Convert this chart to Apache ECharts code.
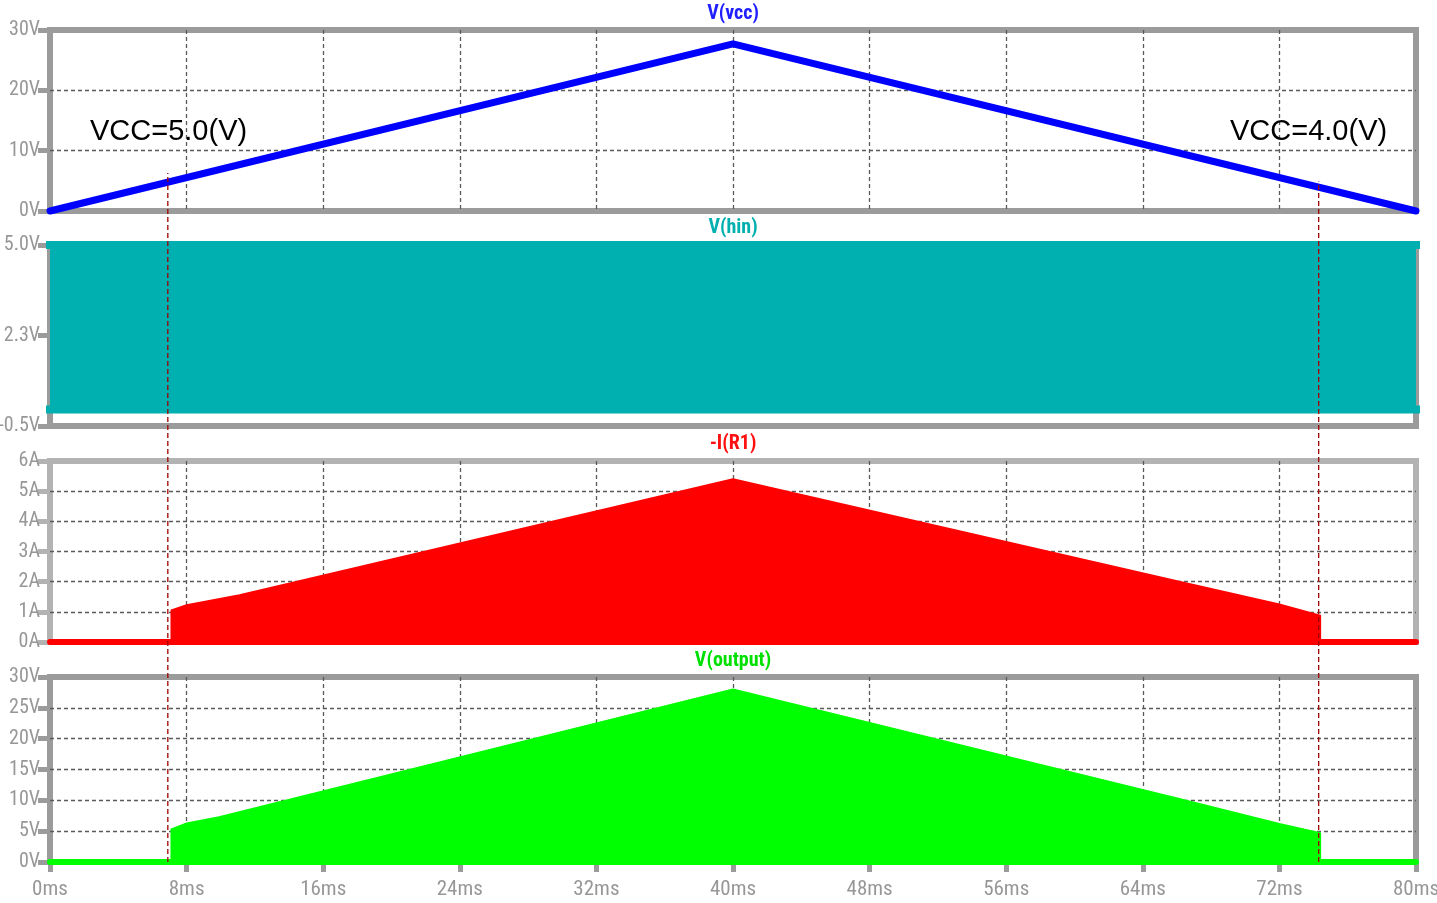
<!DOCTYPE html>
<html><head><meta charset="utf-8">
<script src="https://cdn.jsdelivr.net/npm/echarts@6/dist/echarts.min.js"></script>
<style>html,body{margin:0;padding:0;background:#fff}#c{width:1437px;height:903px}</style>
</head><body><div id="c"></div>
<script>
// ---- data ----
const vccTime  = [0, 40, 80];
const vccValue = [0, 27.7, 0];
const hinTime  = [0, 80];
const hinHigh  = [5.0, 5.0];
const hinLow   = [0, 0];
const hinTicks = [-0.5, 2.25, 5.0];
const iR1Time  = [0, 7.1, 7.1, 8, 11.1, 40, 66.2, 72, 74.4, 74.4, 80];
const iR1Value = [0, 0, 1.05, 1.23, 1.56, 5.4, 2.0, 1.25, 0.88, 0, 0];
const outTime  = [0, 7.1, 7.1, 8, 9.9, 40, 66.2, 72, 74.4, 74.4, 80];
const outValue = [0, 0, 5.3, 6.3, 7.3, 28.0, 10.2, 6.2, 4.7, 0, 0];
const markerTime  = [6.9, 74.3];
const markerText  = ['VCC=5.0(V)', 'VCC=4.0(V)'];
const traceNames  = ['V(vcc)', 'V(hin)', '-I(R1)', 'V(output)'];
const timeMax = 80, timeStep = 8;

// ---- layout / style ----
const FONT = '"Roboto Condensed","Liberation Sans Narrow",sans-serif';
const LBL = '#979797';
const grids = [
  {top: 30, height: 181, border: '#9b9b9b'},
  {top: 245, height: 181, border: '#9b9b9b'},
  {top: 461, height: 181, border: '#b3b3b3'},
  {top: 677, height: 185, border: '#9b9b9b'}
];
const traceColors = ['#0000ff', '#00b0b0', '#ff0000', '#00ff00'];
const titleColors = ['#2020ff', '#00b0b0', '#ff1010', '#00e000'];
const zip = (a, b) => a.map((t, i) => [t, b[i]]);

const grid = grids.map(g => ({left: 50, right: 21, top: g.top, height: g.height, outerBoundsMode: 'none', containLabel: false,
  show: true, borderColor: g.border, borderWidth: 6, backgroundColor: 'transparent'}));
grid.push({left: 50, right: 21, top: 30, height: 832, show: false, outerBoundsMode: 'none'});

const dashed = {color: '#5a5a5a', width: 1.3, type: [4, 3]};
const xAxis = grids.map((g, i) => ({
  type: 'value', gridIndex: i, min: 0, max: timeMax, interval: timeStep,
  axisLine: {show: false},
  axisTick: {show: i === 3, length: 10, lineStyle: {color: g.border, width: 5}},
  axisLabel: {show: i === 3, formatter: '{value}ms', color: LBL, fontFamily: FONT, fontSize: 21, margin: 17},
  splitLine: {show: i !== 1, showMinLine: false, showMaxLine: false, lineStyle: dashed}
}));
xAxis.push({type: 'value', gridIndex: 4, min: 0, max: timeMax, show: false});

const yBase = (i, extra) => Object.assign({
  type: 'value', gridIndex: i,
  axisLine: {show: false},
  axisTick: {show: true, length: 12, lineStyle: {color: grids[i].border, width: 5}},
  axisLabel: {color: LBL, fontFamily: FONT, fontSize: 20, margin: 10},
  splitLine: {show: true, showMinLine: false, showMaxLine: false, lineStyle: dashed}
}, extra);
const yAxis = [
  yBase(0, {min: 0, max: 30, interval: 10}),
  yBase(1, {min: -0.5, max: 5.0, splitLine: {show: false}}),
  yBase(2, {min: 0, max: 6, interval: 1}),
  yBase(3, {min: 0, max: 30, interval: 5})
];
yAxis[0].axisLabel.formatter = '{value}V';
yAxis[1].axisLabel.formatter = v => v.toFixed(1) + 'V';
yAxis[1].axisLabel.customValues = hinTicks;
yAxis[1].axisTick.customValues = hinTicks;
yAxis[2].axisLabel.formatter = '{value}A';
yAxis[3].axisLabel.formatter = '{value}V';
yAxis.push({type: 'value', gridIndex: 4, min: 0, max: 1, show: false});

const lineS = (i, data, width, extra, cap) => Object.assign({
  type: 'line', xAxisIndex: i, yAxisIndex: i, data, symbol: 'none', clip: false,
  lineStyle: {color: traceColors[i], width, cap: cap || 'round', join: 'round'},
  itemStyle: {color: traceColors[i]}, z: 3
}, extra || {});

const series = [
  lineS(0, zip(vccTime, vccValue), 7),
  lineS(1, zip(hinTime, hinHigh), 8, {areaStyle: {color: traceColors[1], opacity: 1}}, 'square'),
  lineS(1, zip(hinTime, hinLow), 8, null, 'square'),
  lineS(2, zip(iR1Time, iR1Value), 1.5, {areaStyle: {color: traceColors[2], opacity: 1}}),
  lineS(2, zip([0, timeMax], [0, 0]), 6),
  lineS(3, zip(outTime, outValue), 1.5, {areaStyle: {color: traceColors[3], opacity: 1}}),
  lineS(3, zip([0, timeMax], [0, 0]), 6)
];
const markerTop = [0.828, 0.818];
markerTime.forEach((t, k) => series.push({
  type: 'line', xAxisIndex: 4, yAxisIndex: 4, symbol: 'none', clip: false, z: 5,
  data: [[t, 0], [t, markerTop[k]]],
  lineStyle: {color: '#a00000', width: 1.3, type: [5, 3]}
}));

const titleY = [14, 228, 444, 661];
const graphic = traceNames.map((n, i) => ({
  type: 'text', x: 733, y: titleY[i], z: 100,
  style: {text: n, fill: titleColors[i],
    font: 'bold 20px ' + FONT, textAlign: 'center', textVerticalAlign: 'middle', verticalAlign: 'middle'}
}));
const annX = [90, 1230];
markerText.forEach((s, k) => graphic.push({
  type: 'text', x: annX[k], y: 132, z: 100,
  style: {text: s, fill: '#000', font: '29px "Liberation Sans",Arial,sans-serif',
    textAlign: 'left', textVerticalAlign: 'middle', verticalAlign: 'middle'}
}));

const chart = echarts.init(document.getElementById('c'));
chart.setOption({animation: false, backgroundColor: '#fff', grid, xAxis, yAxis, series, graphic});
</script></body></html>
